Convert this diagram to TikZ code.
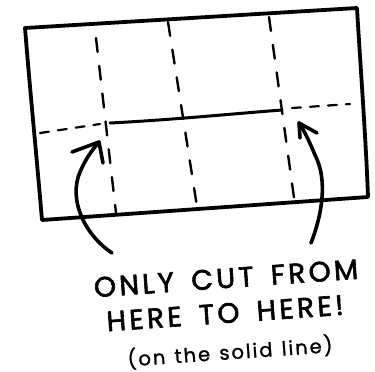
\documentclass[tikz,border=0pt]{standalone}
\usepackage{fontspec}
\setmainfont{Poppins}
\newfontfamily\capfont[LetterSpace=12,FakeBold=2.2,WordSpace=1.6]{Poppins}
\newfontfamily\notefont[LetterSpace=10,FakeBold=1.2,WordSpace=1.3]{Poppins}
\begin{document}
\begin{tikzpicture}[x=1pt,y=-1pt,line cap=round,line join=round,
  paper/.style={line width=3.8pt},
  fold/.style={line width=2.4pt,dash pattern=on 14pt off 14pt},
  foldh/.style={line width=2.2pt,dash pattern=on 9pt off 9pt},
  cut/.style={line width=3pt},
  arrowline/.style={line width=3.6pt},
  caption/.style={font=\capfont\fontsize{28}{28}\selectfont, inner sep=0pt, text height=20pt, text depth=0pt, rotate=4},
  note/.style={font=\notefont\fontsize{19.5}{19.5}\selectfont, inner sep=0pt, rotate=4}]
\useasboundingbox (0,0) rectangle (375,372);
% paper
\draw[paper] (25,28) -- (357,8) .. controls (360,60) and (366,140) .. (368,197)
  -- (42,220) .. controls (36,150) and (30,90) .. (25,28) -- cycle;
% vertical folds
\draw[fold] (96,38) -- (116,213);
\draw[fold] (168,22) -- (198,213);
\draw[fold] (269,17) -- (295,205);
% horizontal fold and cut
\draw[foldh] (40,133) -- (100,124);
\draw[cut] (110,123) .. controls (170,120) and (230,114) .. (282,110);
\draw[foldh] (292,108) -- (350,104);
% arrows
\coordinate (ltail) at (112,253);
\coordinate (ltip) at (99,142);
\coordinate (rtail) at (311,243);
\coordinate (rtip) at (299,123);
\draw[arrowline] (ltail) .. controls (85,235) and (68,200) .. (80,172)
  .. controls (85,160) and (92,150) .. (ltip);
\draw[arrowline] (72,152) -- (ltip) -- (103,163);
\draw[arrowline] (rtail) .. controls (322,215) and (328,180) .. (315,155)
  .. controls (310,143) and (305,132) .. (rtip);
\draw[arrowline] (317,133) -- (rtip) -- (300,138);
% text
\node[caption] (l1) at (226,278) {ONLY CUT FROM};
\node[caption] (l2) at (225,313) {HERE TO HERE!};
\node[note] (l3) at (230,352) {(on the solid line)};
\end{tikzpicture}
\end{document}
